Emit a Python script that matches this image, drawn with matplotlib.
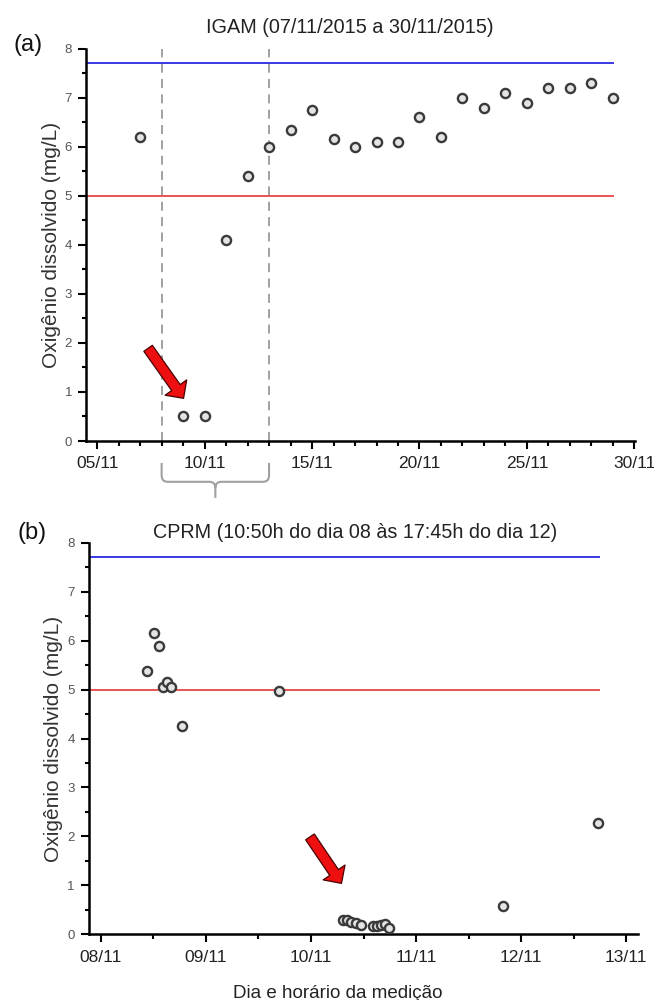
import matplotlib
matplotlib.use('Agg')
import matplotlib.pyplot as plt
from matplotlib.path import Path
from matplotlib.patches import PathPatch
import matplotlib.transforms as mtransforms
from matplotlib.ticker import FixedLocator, MultipleLocator

plt.rcParams['font.family'] = ['Liberation Sans', 'DejaVu Sans']

# ---------------- data ----------------
# Panel (a): IGAM, day of November
igam_day = [7, 9, 10, 11, 12, 13, 14, 15, 16, 17, 18, 19, 20, 21, 22, 23, 24, 25, 26, 27, 28, 29]
igam_od = [6.2, 0.5, 0.5, 4.1, 5.4, 6.0, 6.35, 6.75, 6.15, 6.0, 6.1, 6.1, 6.6, 6.2,
           7.0, 6.8, 7.1, 6.9, 7.2, 7.2, 7.3, 7.0]
igam_ticks = [5, 10, 15, 20, 25, 30]
igam_ticklabels = ['05/11', '10/11', '15/11', '20/11', '25/11', '30/11']
igam_window = [8, 13]          # dashed lines / brace
igam_arrow_tail = (7.37, 1.89)
igam_arrow_tip = (9.02, 0.87)

# Panel (b): CPRM, fractional day of November
cprm_day = [8.44, 8.51, 8.55, 8.59, 8.63, 8.67, 8.77, 9.70,
            10.30, 10.34, 10.38, 10.43, 10.48, 10.59, 10.63, 10.67, 10.70, 10.74,
            11.83, 12.73]
cprm_od = [5.38, 6.16, 5.88, 5.06, 5.15, 5.06, 4.26, 4.97,
           0.29, 0.30, 0.26, 0.24, 0.19, 0.17, 0.17, 0.20, 0.22, 0.12,
           0.58, 2.27]
cprm_ticks = [8, 9, 10, 11, 12, 13]
cprm_ticklabels = ['08/11', '09/11', '10/11', '11/11', '12/11', '13/11']
cprm_arrow_tail = (9.99, 1.99)
cprm_arrow_tip = (10.29, 1.04)

# reference levels
limit_blue = 7.7
limit_red = 5.0

title_a = 'IGAM (07/11/2015 a 30/11/2015)'
title_b = 'CPRM (10:50h do dia 08 às 17:45h do dia 12)'
ylabel = 'Oxigênio dissolvido (mg/L)'
xlabel = 'Dia e horário da medição'

# ---------------- figure ----------------
fig = plt.figure(figsize=(6.54, 10), dpi=100)
axA = fig.add_axes([0.1315, 0.559, 0.8401, 0.3923])
axB = fig.add_axes([0.1357, 0.0657, 0.8391, 0.3916])


def style(ax):
    for s in ['top', 'right']:
        ax.spines[s].set_visible(False)
    for s in ['left', 'bottom']:
        ax.spines[s].set_linewidth(1.8)
    ax.set_ylim(0, 8)
    ax.yaxis.set_major_locator(MultipleLocator(1))
    ax.yaxis.set_minor_locator(MultipleLocator(0.5))
    ax.tick_params(axis='y', which='major', direction='out', length=5.5, width=1.5,
                   pad=4.5, labelsize=9.5, labelcolor='#555555')
    ax.tick_params(axis='y', which='minor', direction='out', length=3, width=1.5)
    ax.tick_params(axis='x', which='major', direction='out', length=6, width=1.5,
                   pad=5, labelsize=12.5, labelcolor='#222222')
    ax.tick_params(axis='x', which='minor', direction='out', length=3.5, width=1.5)
    ax.set_ylabel(ylabel, fontsize=15, color='#333333', va='center')


marker_kw = dict(ls='none', marker='o', ms=6.6, mfc='#e4e4e4', mec='#3a3a3a', mew=1.7, zorder=4)
arrow_kw = dict(arrowstyle='simple,head_length=0.95,head_width=1.9,tail_width=0.75',
                fc='#ee1010', ec='#4a0000', lw=0.9, shrinkA=0, shrinkB=0)

# ---- panel (a)
style(axA)
axA.set_xlim(4.48, 30.05)
axA.xaxis.set_major_locator(FixedLocator(igam_ticks))
axA.set_xticklabels(igam_ticklabels)
axA.xaxis.set_minor_locator(MultipleLocator(1))
axA.vlines(igam_window, 0, 8, colors='#9a9a9a', linestyles=(0, (5, 3.5)), lw=1.3, zorder=2)
axA.hlines(limit_blue, 4.48, 29.05, colors='#2a2ae0', lw=1.3, zorder=2)
axA.hlines(limit_red, 4.48, 29.05, colors='#e84545', lw=1.3, zorder=2)
axA.plot(igam_day, igam_od, **marker_kw)
axA.annotate('', xy=igam_arrow_tip, xytext=igam_arrow_tail, arrowprops=arrow_kw, zorder=5)
axA.text(0.48, 1.054, title_a, transform=axA.transAxes, ha='center', va='center',
         fontsize=14.3, color='#222222')
axA.yaxis.set_label_coords(-0.0635, 0.5)

# brace under the dashed window
x0, x1 = igam_window
xm = (x0 + x1) / 2
yt, ym, yb = -0.056, -0.104, -0.145
r, ry = 0.28, 0.016
verts = [(x0, yt), (x0, ym + ry), (x0, ym), (x0 + r, ym), (xm - r, ym), (xm, ym), (xm, ym - ry), (xm, yb),
         (x1, yt), (x1, ym + ry), (x1, ym), (x1 - r, ym), (xm + r, ym), (xm, ym), (xm, ym - ry)]
codes = [Path.MOVETO, Path.LINETO, Path.CURVE3, Path.CURVE3, Path.LINETO, Path.CURVE3, Path.CURVE3, Path.LINETO,
         Path.MOVETO, Path.LINETO, Path.CURVE3, Path.CURVE3, Path.LINETO, Path.CURVE3, Path.CURVE3]
trans = mtransforms.blended_transform_factory(axA.transData, axA.transAxes)
axA.add_patch(PathPatch(Path(verts, codes), transform=trans, fill=False, ec='#a0a0a0', lw=1.5,
                        clip_on=False))

# ---- panel (b)
style(axB)
axB.set_xlim(7.885, 13.107)
axB.xaxis.set_major_locator(FixedLocator(cprm_ticks))
axB.set_xticklabels(cprm_ticklabels)
axB.xaxis.set_minor_locator(MultipleLocator(0.5))
axB.hlines(limit_blue, 7.885, 12.75, colors='#2a2ae0', lw=1.3, zorder=2)
axB.hlines(limit_red, 7.885, 12.75, colors='#e84545', lw=1.3, zorder=2)
axB.plot(cprm_day, cprm_od, **marker_kw)
axB.annotate('', xy=cprm_arrow_tip, xytext=cprm_arrow_tail, arrowprops=arrow_kw, zorder=5)
axB.text(0.485, 1.027, title_b, transform=axB.transAxes, ha='center', va='center',
         fontsize=14.2, color='#222222')
axB.yaxis.set_label_coords(-0.065, 0.5)
fig.text(338 / 654, 0.0025, xlabel, ha='center', va='baseline', fontsize=13.5, color='#222222')

# panel letters
fig.text(28 / 654, 1 - 45 / 1000, '(a)', ha='center', va='center', fontsize=17, color='#111111')
fig.text(32 / 654, 1 - 533 / 1000, '(b)', ha='center', va='center', fontsize=17, color='#111111')

fig.savefig('out.png', dpi=100)
